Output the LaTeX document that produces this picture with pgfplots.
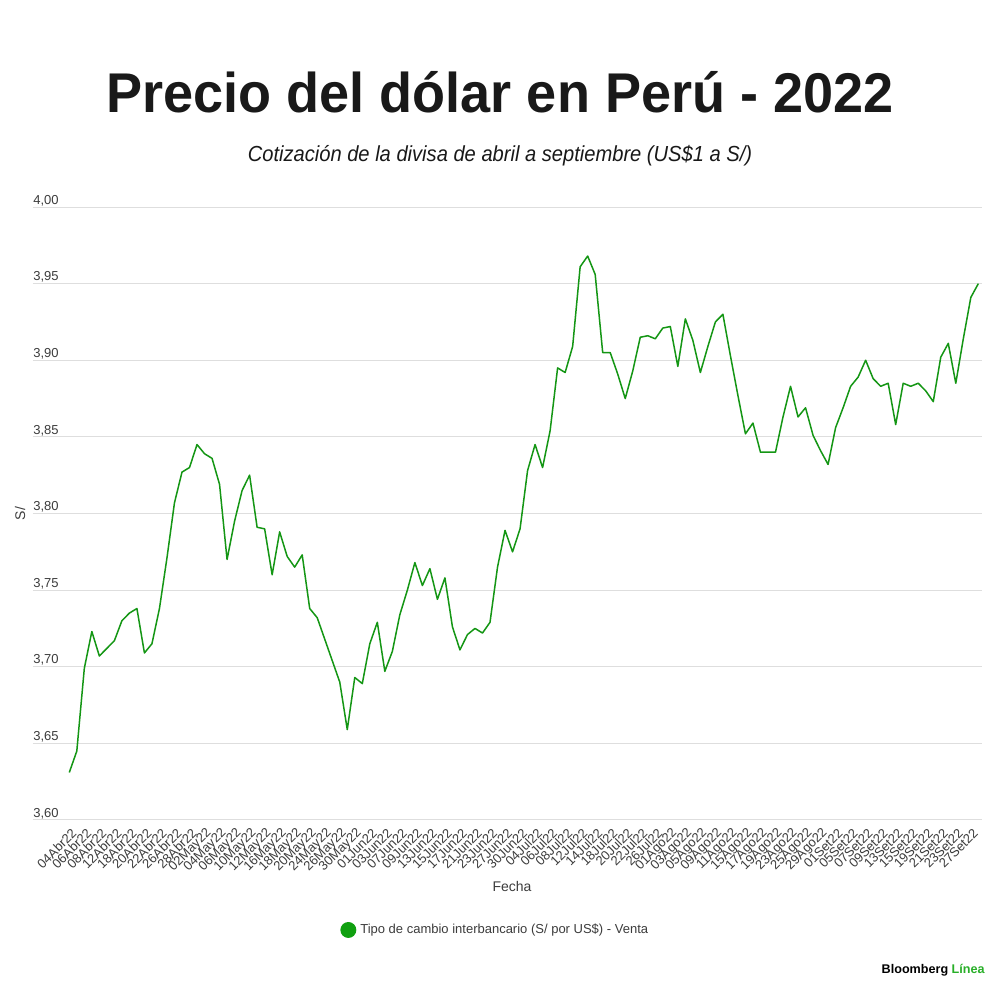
\documentclass[border=0pt]{standalone}
\usepackage{pgfplots}
\pgfplotsset{compat=1.18}
\usepackage{pgfplotstable}
\usepackage{fontspec}
\setmainfont{Liberation Sans}
\definecolor{linegreen}{RGB}{20,150,20}
\definecolor{dotgreen}{RGB}{16,160,16}
\definecolor{logogreen}{RGB}{40,175,40}
\definecolor{gridgray}{RGB}{222,222,222}
\definecolor{tickgray}{RGB}{60,60,60}
\definecolor{titleblack}{RGB}{25,25,25}

\pgfplotstableread{
idx val
0 3.631
1 3.645
2 3.699
3 3.723
4 3.707
5 3.712
6 3.717
7 3.730
8 3.735
9 3.738
10 3.709
11 3.715
12 3.738
13 3.771
14 3.807
15 3.827
16 3.830
17 3.845
18 3.839
19 3.836
20 3.819
21 3.770
22 3.795
23 3.815
24 3.825
25 3.791
26 3.790
27 3.760
28 3.788
29 3.772
30 3.765
31 3.773
32 3.738
33 3.732
34 3.718
35 3.704
36 3.690
37 3.659
38 3.693
39 3.689
40 3.715
41 3.729
42 3.697
43 3.710
44 3.734
45 3.750
46 3.768
47 3.753
48 3.764
49 3.744
50 3.758
51 3.726
52 3.711
53 3.721
54 3.725
55 3.722
56 3.729
57 3.765
58 3.789
59 3.775
60 3.790
61 3.828
62 3.845
63 3.830
64 3.854
65 3.895
66 3.892
67 3.909
68 3.961
69 3.968
70 3.956
71 3.905
72 3.905
73 3.891
74 3.875
75 3.893
76 3.915
77 3.916
78 3.914
79 3.921
80 3.922
81 3.896
82 3.927
83 3.913
84 3.892
85 3.909
86 3.925
87 3.930
88 3.903
89 3.877
90 3.852
91 3.859
92 3.840
93 3.840
94 3.840
95 3.863
96 3.883
97 3.863
98 3.869
99 3.851
100 3.841
101 3.832
102 3.856
103 3.869
104 3.883
105 3.889
106 3.900
107 3.888
108 3.883
109 3.885
110 3.858
111 3.885
112 3.883
113 3.885
114 3.880
115 3.873
116 3.902
117 3.911
118 3.885
119 3.914
120 3.941
121 3.950
}\dolar

\begin{document}
\begin{tikzpicture}
\useasboundingbox[fill=white] (0,0) rectangle (500pt,500pt);
\node[anchor=base, text=titleblack, inner sep=0pt] at (250pt,443.5pt)
  {\scalebox{0.965}[1]{\fontsize{28pt}{30pt}\selectfont\bfseries Precio del dólar en Perú - 2022}};
\node[anchor=base, text=titleblack, inner sep=0pt] at (250pt,419pt)
  {\scalebox{0.923}[1]{\fontsize{10.9pt}{12pt}\selectfont\itshape Cotización de la divisa de abril a septiembre (US\$1 a S/)}};
\node[anchor=base east, inner sep=0pt] at (492.5pt,13pt)
  {\fontsize{6.3pt}{7pt}\selectfont\bfseries Bloomberg \textcolor{logogreen}{Línea}};
\begin{axis}[
  at={(16.5pt,90pt)}, anchor=south west,
  scale only axis, width=474.5pt, height=306.5pt,
  xmin=-4.832, xmax=121.49, ymin=3.6, ymax=4.0,
  axis line style={draw=none},
  clip=false,
  ytick={3.6,3.65,3.7,3.75,3.8,3.85,3.9,3.95,4.0},
  ymajorgrids, major grid style={draw=gridgray, line width=0.5pt},
  major tick length=0pt, tick style={draw=none},
  /pgf/number format/.cd, fixed, fixed zerofill, precision=2, use comma, assume math mode=true, /pgfplots/.cd,
  yticklabel style={anchor=base west, inner sep=0pt, yshift=1.4pt, text=tickgray, font=\fontsize{6.5pt}{7pt}\selectfont},
  xtick={0,2,...,120},
  xticklabels={04Abr22,06Abr22,08Abr22,12Abr22,18Abr22,20Abr22,22Abr22,26Abr22,28Abr22,02May22,04May22,06May22,10May22,12May22,16May22,18May22,20May22,24May22,26May22,30May22,01Jun22,03Jun22,07Jun22,09Jun22,13Jun22,15Jun22,17Jun22,21Jun22,23Jun22,27Jun22,30Jun22,04Jul22,06Jul22,08Jul22,12Jul22,14Jul22,18Jul22,20Jul22,22Jul22,26Jul22,01Ago22,03Ago22,05Ago22,09Ago22,11Ago22,15Ago22,17Ago22,19Ago22,23Ago22,25Ago22,29Ago22,01Set22,05Set22,07Set22,09Set22,13Set22,15Set22,19Set22,21Set22,23Set22,27Set22},
  xticklabel style={xshift=2.5pt, yshift=-5.5pt, rotate=45, anchor=east, inner sep=0pt, text=tickgray, font=\fontsize{6.5pt}{7pt}\selectfont},
  xlabel={Fecha}, ylabel={S/},
  every axis x label/.style={at={(rel axis cs:0.5,0)}, anchor=center, yshift=-33pt, xshift=2.25pt, text=tickgray, font=\fontsize{7pt}{8pt}\selectfont},
  every axis y label/.style={at={(rel axis cs:0,0.5)}, xshift=-6.5pt, rotate=90, anchor=center, text=tickgray, font=\fontsize{7pt}{8pt}\selectfont},
  legend style={at={(0.3235,-0.1794)}, anchor=west, draw=none, fill=none, inner sep=0pt, font=\fontsize{6.5pt}{7pt}\selectfont, text=tickgray},
  legend cell align=left,
  legend image code/.code={\fill[dotgreen] (3.6pt,0pt) circle (3.6pt);},
]
\addplot[linegreen, line width=0.75pt, line join=round] table[x=idx, y=val] {\dolar};
\addlegendentry{Tipo de cambio interbancario (S/ por US\$) - Venta}
\end{axis}
\end{tikzpicture}
\end{document}
